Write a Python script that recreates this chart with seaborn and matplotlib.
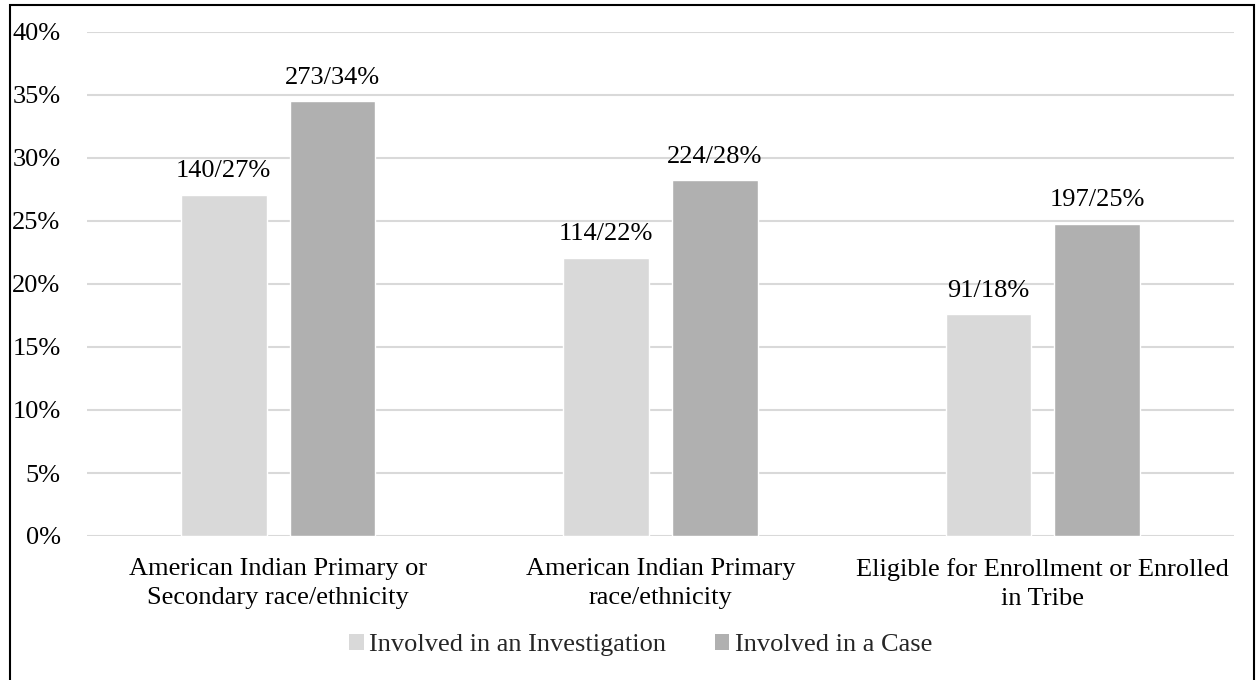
import pandas as pd
import matplotlib.pyplot as plt
import seaborn as sns
from matplotlib.patches import Patch, Rectangle
from matplotlib.ticker import PercentFormatter

categories = [
    "American Indian Primary or\nSecondary race/ethnicity",
    "American Indian Primary\nrace/ethnicity",
    "Eligible for Enrollment or Enrolled\nin Tribe",
]
series = ["Involved in an Investigation", "Involved in a Case"]
investigation_pct = [27.1, 22.1, 17.6]
case_pct = [34.5, 28.25, 24.8]
investigation_labels = ["140/27%", "114/22%", "91/18%"]
case_labels = ["273/34%", "224/28%", "197/25%"]
colors = ["#D9D9D9", "#B0B0B0"]

df = pd.DataFrame({
    "category": categories * 2,
    "series": [series[0]] * 3 + [series[1]] * 3,
    "value": investigation_pct + case_pct,
})

sns.set_theme(style="white")
plt.rcParams['font.family'] = ['Liberation Serif', 'DejaVu Serif']
FS = 19

fig = plt.figure(figsize=(12.56, 6.8), dpi=100)
ax = fig.add_axes([87 / 1256, 1 - 536 / 680, (1234 - 87) / 1256, (536 - 32) / 680])

sns.barplot(data=df, x="category", y="value", hue="series", order=categories,
            hue_order=series, palette=dict(zip(series, colors)),
            width=0.57, gap=0.214, ax=ax, legend=False, saturation=1)

for cont, labs in zip(ax.containers, [investigation_labels, case_labels]):
    ax.bar_label(cont, labels=labs, padding=9, fontsize=FS, color="black")

ax.set_ylim(0, 40)
ax.set_xlim(-0.5, 2.5)
ax.set_yticks(range(0, 41, 5))
ax.yaxis.set_major_formatter(PercentFormatter(decimals=0))
ax.grid(axis="y", color="#D9D9D9", linewidth=1.5)
ax.set_axisbelow(True)
for s in ax.spines.values():
    s.set_visible(False)
ax.tick_params(axis="y", length=0, pad=19, labelsize=FS, labelcolor="black")
ax.tick_params(axis="x", length=0, pad=15.5, labelsize=FS, labelcolor="black")
for t in ax.get_xticklabels():
    t.set_linespacing(1.45)
ax.set_xlabel("")
ax.set_ylabel("")

handles = [Patch(facecolor=c, edgecolor="none") for c in colors]
fig.legend(handles, series, loc="center", bbox_to_anchor=(0.51, 1 - 645 / 680),
           ncol=2, frameon=False, fontsize=FS, handlelength=0.55, handleheight=0.55,
           handletextpad=0.2, columnspacing=1.85)

fig.patches.append(Rectangle((10 / 1256, -0.01), 1244 / 1256, 1 - 5 / 680 + 0.01,
                             transform=fig.transFigure, fill=False,
                             edgecolor="black", linewidth=1.5))

fig.savefig("out.png", dpi=100)
